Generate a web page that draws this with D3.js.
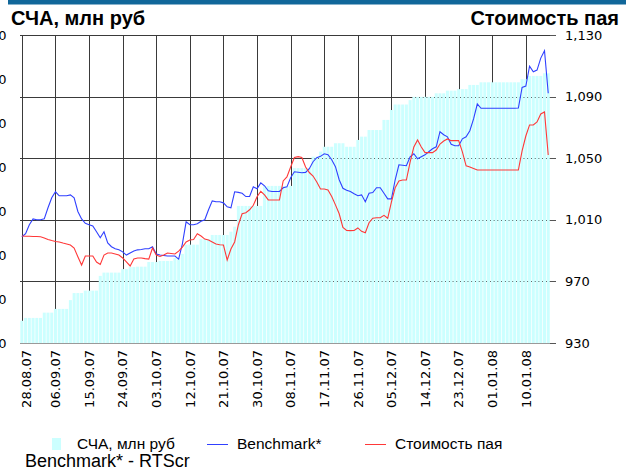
<!DOCTYPE html>
<html>
<head>
<meta charset="utf-8">
<script src="https://cdn.jsdelivr.net/npm/d3@7"></script>
<style>
html,body{margin:0;padding:0;background:#fff;}
svg{display:block;}
</style>
</head>
<body>
<svg id="chart" width="626" height="470"></svg>
<script>
// ---- data ----
const startDate = "2007-08-28";
const dayCount = 142;
const tickLabels = ["28.08.07","06.09.07","15.09.07","24.09.07","03.10.07","12.10.07","21.10.07","30.10.07","08.11.07","17.11.07","26.11.07","05.12.07","14.12.07","23.12.07","01.01.08","10.01.08"];
const leftTicks = [0,200,400,600,800,1000,1200,1400];
const rightTicks = [930,970,1010,1050,1090,1130];

const scha = [
101,114,114,114,114,114,138,138,138,155,
155,155,155,195,227,227,227,238,238,238,
238,305,320,320,320,320,320,336,336,345,
345,347,347,347,368,368,368,373,373,373,
373,386,386,405,447,447,447,447,473,473,
473,491,491,491,491,491,506,529,623,623,
623,623,623,623,623,714,714,714,714,714,
714,714,714,795,795,795,795,795,847,847,
870,892,892,892,908,908,908,892,892,892,
923,938,938,968,968,968,968,1014,1014,1059,
1084,1084,1084,1084,1104,1119,1119,1119,1119,1119,
1119,1135,1135,1135,1147,1147,1147,1154,1154,1154,
1173,1173,1173,1185,1185,1185,1185,1185,1185,1185,
1185,1185,1185,1185,1199,1199,1214,1214,1214,1214,
1226,1226];

const benchmark = [
999,1001,1006.8,1010.6,1010,1010,1010.6,1017.8,1024.3,1028.2,
1025.6,1025.6,1025.6,1026.2,1024.3,1015.4,1010.6,1007.7,1006.8,1006,
1002.2,998.3,1002.2,995,992.5,991.2,990.5,989.2,987.1,988.4,
989.7,990.5,990.7,991.2,991.2,992.5,987.8,987.1,986.8,986.5,
986.5,986.5,984.5,994.4,1008.7,1006.8,1006.8,1007.4,1009,1010,
1016.5,1022.3,1021.7,1021.7,1021,1018.4,1017.8,1028.2,1027.8,1027.2,
1025.1,1025.1,1031.4,1030.1,1034,1032.1,1028.8,1028.4,1028.4,1028.4,
1030.8,1031.4,1037.3,1041.2,1040.9,1040.6,1040.8,1043.2,1047.7,1050.3,
1051.2,1052.9,1052.3,1049,1044.5,1036,1030.5,1029.2,1028.4,1026.9,
1025.6,1026.2,1021.7,1027.2,1027.7,1030.8,1030.8,1027.2,1023.6,1023.6,
1036,1045.7,1045.4,1045.1,1050.9,1052.9,1049.6,1050.9,1052.2,1054.2,
1056.1,1057.4,1067.2,1065.2,1063.9,1059,1058.1,1058.1,1062.6,1063.9,
1067.8,1075.5,1085.2,1082.4,1082.4,1082.4,1082.4,1082.4,1082.4,1082.4,
1082.4,1082.4,1082.4,1082.6,1096,1096.8,1109.8,1106.1,1107.2,1115,
1119.8,1092.2];

const unitPrice = [
999.5,999.3,999.3,999.2,999.2,999,998.2,997.2,996.5,995.9,
995.6,994.9,994.3,993.6,991.7,986,980.6,986.5,986.5,986.5,
982.6,981,987.1,988.4,988.4,987.8,987.1,985.2,982.6,980,
984.5,985.2,985.2,984.8,984.5,991.7,987.1,986.2,987.1,988.4,
988.1,987.8,989.7,992.3,995.6,996.9,997.2,1000.9,999.5,997.5,
996.9,995.6,994.3,993.8,993.6,983.9,991,995.6,1006.8,1013.9,
1014.6,1016.5,1019.4,1025,1028.5,1026.2,1022.9,1022.9,1022.9,1022.9,
1035.2,1037.8,1044.3,1050.4,1051,1050.4,1044.3,1040.7,1038.4,1034.5,
1030,1030,1029.4,1025.1,1019.7,1013.9,1005.1,1003.1,1003,1003.1,
1004.7,1002.5,1001.6,1008.1,1011,1011.3,1011.3,1012.9,1011,1021.7,
1030.8,1035.2,1035.8,1035.8,1047.5,1057.3,1061.8,1057.3,1053.6,1053.6,
1053.6,1055.3,1059.2,1061.2,1062.5,1061.4,1061.4,1061.4,1054.1,1045,
1044.3,1043.3,1042.3,1042.3,1042.3,1042.3,1042.3,1042.3,1042.3,1042.3,
1042.3,1042.3,1042.3,1042.3,1054.7,1064.4,1071.6,1071.6,1073.5,1078.7,
1080,1052.1];

// ---- chart ----
const svg = d3.select("#chart");
const fmtDay = d3.timeFormat("%d.%m.%y");
const start = d3.timeParse("%Y-%m-%d")(startDate);
const days = d3.range(dayCount).map(i => fmtDay(d3.timeDay.offset(start, i)));

const plot = {left: 20, right: 550.1, top: 35, bottom: 343};
const x = d3.scaleBand().domain(days).range([plot.left, plot.right]).paddingInner(0.2).paddingOuter(0.1);
const cx = d => x(d) + x.bandwidth() / 2;
const yL = d3.scaleLinear().domain([0, 1400]).range([plot.bottom, plot.top]);
const yR = d3.scaleLinear().domain([930, 1130]).range([plot.bottom, plot.top]);

// top band
svg.append("rect").attr("x", 8).attr("y", 0).attr("width", 618).attr("height", 4.5).attr("fill", "#11679a");

// titles
svg.append("text").attr("x", 11).attr("y", 25).attr("font-family", "Liberation Sans, Arial, sans-serif")
  .attr("font-weight", "bold").attr("font-size", 20).attr("fill", "#000").text("СЧА, млн руб");
svg.append("text").attr("x", 619).attr("y", 25).attr("text-anchor", "end").attr("font-family", "Liberation Sans, Arial, sans-serif")
  .attr("font-weight", "bold").attr("font-size", 20).attr("fill", "#000").text("Стоимость пая");

const grid = svg.append("g").attr("shape-rendering", "crispEdges");
// horizontal gridlines (right axis)
grid.selectAll("line.h").data(rightTicks).join("line")
  .attr("x1", plot.left).attr("x2", d => d === 1130 ? 556 : plot.right)
  .attr("y1", d => Math.round(yR(d)) + 0.5).attr("y2", d => Math.round(yR(d)) + 0.5)
  .attr("stroke", d => d === 930 ? "#9a9a9a" : "#3a3a3a").attr("stroke-width", 1);
// vertical gridlines at labelled days
grid.selectAll("line.v").data(tickLabels).join("line")
  .attr("x1", d => Math.round(cx(d)) + 0.5).attr("x2", d => Math.round(cx(d)) + 0.5)
  .attr("y1", plot.top).attr("y2", plot.bottom)
  .attr("stroke", "#3a3a3a").attr("stroke-width", 1);

// bars
svg.append("g").selectAll("rect").data(days).join("rect")
  .attr("x", d => x(d)).attr("width", x.bandwidth())
  .attr("y", (d, i) => yL(scha[i])).attr("height", (d, i) => plot.bottom - yL(scha[i]))
  .attr("fill", "#ccffff");

// right axis tick marks
svg.append("g").attr("shape-rendering", "crispEdges").selectAll("line").data(rightTicks).join("line")
  .attr("x1", 550).attr("x2", 556)
  .attr("y1", d => Math.round(yR(d)) + 0.5).attr("y2", d => Math.round(yR(d)) + 0.5)
  .attr("stroke", "#555");

// lines
const lineB = d3.line().x((d, i) => cx(days[i])).y(d => yR(d));
svg.append("path").datum(benchmark).attr("d", lineB).attr("fill", "none").attr("stroke", "#3040ff").attr("stroke-width", 1.1);
svg.append("path").datum(unitPrice).attr("d", lineB).attr("fill", "none").attr("stroke", "#ff3838").attr("stroke-width", 1.1);

// axis labels
const axisFont = "DejaVu Sans, Verdana, sans-serif";
const fmt = d3.format(",");
svg.append("g").selectAll("text").data(rightTicks).join("text")
  .attr("x", 565).attr("y", d => yR(d)).attr("dy", "0.36em")
  .attr("font-family", axisFont).attr("font-size", 13).attr("fill", "#000").text(d => fmt(d));
svg.append("g").selectAll("text").data(leftTicks).join("text")
  .attr("x", 6.5).attr("y", d => yL(d)).attr("dy", "0.36em").attr("text-anchor", "end")
  .attr("font-family", axisFont).attr("font-size", 13).attr("fill", "#000").text(d => d);
svg.append("g").selectAll("text").data(tickLabels).join("text")
  .attr("transform", d => `translate(${Math.max(cx(d), 26)},350) rotate(-90)`)
  .attr("dy", "0.36em").attr("text-anchor", "end")
  .attr("font-family", axisFont).attr("font-size", 13).attr("fill", "#000").text(d => d);

// legend
const legFont = "Liberation Sans, Arial, sans-serif";
const leg = svg.append("g");
leg.append("rect").attr("x", 52).attr("y", 438).attr("width", 9).attr("height", 12).attr("fill", "#ccffff");
leg.append("text").attr("x", 77).attr("y", 449).attr("font-family", legFont).attr("font-size", 15.5).text("СЧА, млн руб");
leg.append("line").attr("x1", 207).attr("x2", 228).attr("y1", 444.5).attr("y2", 444.5).attr("stroke", "#3040ff").attr("stroke-width", 1);
leg.append("text").attr("x", 237).attr("y", 449).attr("font-family", legFont).attr("font-size", 15.5).text("Benchmark*");
leg.append("line").attr("x1", 365).attr("x2", 386).attr("y1", 444.5).attr("y2", 444.5).attr("stroke", "#ff3838").attr("stroke-width", 1);
leg.append("text").attr("x", 395).attr("y", 449).attr("font-family", legFont).attr("font-size", 15.5).text("Стоимость пая");
svg.append("text").attr("x", 25).attr("y", 467).attr("font-family", legFont).attr("font-size", 18).text("Benchmark* - RTScr");
</script>
</body>
</html>
